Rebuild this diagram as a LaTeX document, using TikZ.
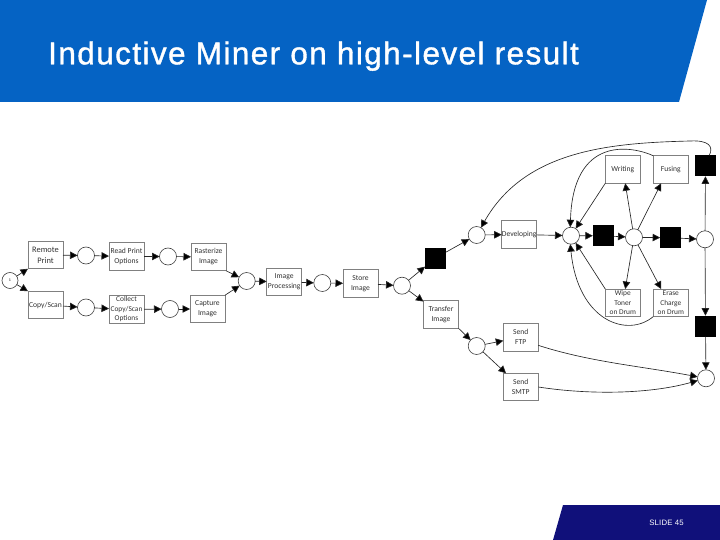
\documentclass[tikz,border=0pt]{standalone}
\usepackage{fontspec}
\setmainfont{Carlito}
\newfontfamily\arialfont[LetterSpace=2]{Liberation Sans}
\newfontfamily\titlefont[LetterSpace=4.5,FakeBold=1.2]{Liberation Sans}
\usetikzlibrary{arrows.meta}
\definecolor{hdrblue}{HTML}{0563C4}
\definecolor{ftrnavy}{HTML}{10107A}
\definecolor{boxedge}{HTML}{808080}
\definecolor{boxtext}{HTML}{333333}
\tikzset{
  place/.style={circle,draw=black!75,fill=white,line width=.6pt,minimum size=17pt,inner sep=0pt,outer sep=0pt},
  startplace/.style={place,minimum size=16pt,font=\fontsize{4}{4}\selectfont},
  task/.style={rectangle,draw=boxedge,fill=white,line width=.9pt,minimum width=35pt,minimum height=27.5pt,inner sep=0pt,outer sep=0pt,align=center,text=boxtext,font=\fontsize{7.6}{10}\selectfont},
  threeline/.style={font=\fontsize{7.4}{9.5}\selectfont},
  blk/.style={rectangle,fill=black,minimum width=21pt,minimum height=21pt,inner sep=0pt,outer sep=0pt},
  arc/.style={draw=black!85,line width=.65pt,-{Triangle[length=7.5pt,width=7.5pt,fill=black]}}
}
\begin{document}
\begin{tikzpicture}[x=1pt,y=-1pt]
\useasboundingbox (0,0) rectangle (720,540);
\fill[hdrblue] (0,0) -- (707,0) -- (679,102) -- (0,102) -- cycle;
\fill[ftrnavy] (563,505) -- (720,505) -- (720,540) -- (553,540) -- cycle;
\node[text=white,anchor=base west,inner sep=0pt,font=\titlefont\fontsize{31.5}{33}\selectfont] (title) at (48,64.3) {Inductive Miner on high-level result};
\node[text=white,anchor=center,inner sep=0pt,font=\arialfont\fontsize{7.8}{9}\selectfont] (slide) at (666.5,523) {SLIDE 45};

\node[startplace] (s) at (10,280.5) {1};
\node[task,font=\fontsize{8.4}{11}\selectfont] (remote) at (45.5,255) {Remote\\Print};
\node[place] (p1) at (86,255.5) {};
\node[task] (read) at (126.5,256.5) {Read Print\\Options};
\node[place] (p2) at (168,256.5) {};
\node[task] (raster) at (208.5,257) {Rasterize\\Image};
\node[task] (copy) at (45.5,305) {Copy/Scan};
\node[place] (p3) at (86,307.5) {};
\node[task,threeline] (collect) at (126.5,309.5) {Collect\\Copy/Scan\\Options};
\node[place] (p4) at (170,309) {};
\node[task] (capture) at (207.5,309) {Capture\\Image};
\node[place] (p5) at (246.7,281) {};
\node[task] (imgproc) at (284.2,282) {Image\\Processing};
\node[place] (p6) at (322.3,283) {};
\node[task] (store) at (360.5,283.5) {Store\\Image};
\node[place] (p7) at (402,285.7) {};
\node[blk] (b1) at (435.5,258) {};
\node[task] (transfer) at (441,314.5) {Transfer\\Image};
\node[place] (p8) at (476.7,235) {};
\node[task] (dev) at (519.2,234.5) {Developing};
\node[place] (p9) at (571,235.7) {};
\node[blk] (b2) at (603.4,235.8) {};
\node[place] (p10) at (634,237.3) {};
\node[blk] (b3) at (670.7,237.8) {};
\node[place] (p11) at (705,239.3) {};
\node[blk] (b4) at (705.5,165.8) {};
\node[task] (writing) at (622.8,169.5) {Writing};
\node[task] (fusing) at (670.8,169.5) {Fusing};
\node[task,threeline] (wipe) at (622.8,302.8) {Wipe\\Toner\\on Drum};
\node[task,threeline] (erase) at (670.8,302.8) {Erase\\Charge\\on Drum};
\node[blk] (b5) at (705.5,326.2) {};
\node[place] (p12) at (706,378.3) {};
\node[place] (p13) at (476.7,346) {};
\node[task] (ftp) at (520.8,337.2) {Send\\FTP};
\node[task] (smtp) at (520.8,387) {Send\\SMTP};

\draw[arc] (s) -- (remote.south west);
\draw[arc] (s) -- (copy.north west);
\draw[arc] (remote) -- (p1);
\draw[arc] (p1) -- (read);
\draw[arc] (read) -- (p2);
\draw[arc] (p2) -- (raster);
\draw[arc] (copy) -- (p3);
\draw[arc] (p3) -- (collect);
\draw[arc] (collect) -- (p4);
\draw[arc] (p4) -- (capture);
\draw[arc] (raster.south east) -- (p5);
\draw[arc] (capture.north east) -- (p5);
\draw[arc] (p5) -- (imgproc);
\draw[arc] (imgproc) -- (p6);
\draw[arc] (p6) -- (store);
\draw[arc] (store) -- (p7);
\draw[arc] (p7) -- (b1);
\draw[arc] (p7) -- (transfer);
\draw[arc] (b1) -- (p8);
\draw[arc] (transfer.south east) -- (p13);
\draw[arc] (p13) -- (ftp);
\draw[arc] (p13) -- (smtp);
\draw[arc] (p8) -- (dev);
\draw[arc] (dev) -- (p9);
\draw[arc] (p9) -- (b2);
\draw[arc] (b2) -- (p10);
\draw[arc] (p10) -- (b3);
\draw[arc] (b3) -- (p11);
\draw[arc] (p11) -- (b4);
\draw[arc] (p10) -- (writing.-80);
\draw[arc] (p10) -- (fusing.-125);
\draw[arc] (p10) -- (wipe.80);
\draw[arc] (p10) -- (erase.125);
\draw[arc] (writing.south west) -- (p9);
\draw[arc] (wipe.north west) -- (p9);
\draw[arc] (p11) -- (b5);
\draw[arc] (b5) -- (p12);
\draw[arc] (b4.70) .. controls (714,146) and (708,140) .. (690,141)
  .. controls (610,143) and (525,150) .. (p8.60);
\draw[arc] (fusing.north west) .. controls (632,146) and (573,135) .. (p9.95);
\draw[arc] (erase.south west) .. controls (628,338) and (578,322) .. (p9.265);
\draw[arc] (ftp.-25) .. controls (590,362) and (640,366) .. (p12.170);
\draw[arc] (smtp.east) .. controls (590,395) and (650,394) .. (p12.195);
\end{tikzpicture}
\end{document}
